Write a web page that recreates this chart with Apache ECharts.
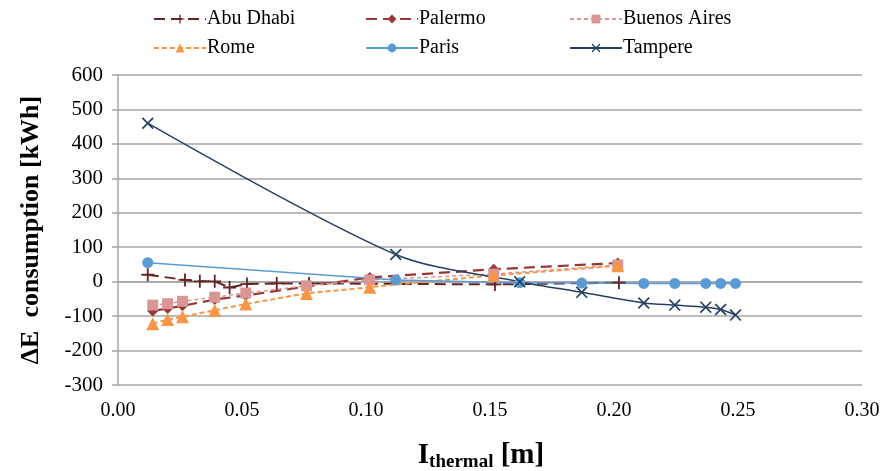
<!DOCTYPE html>
<html>
<head>
<meta charset="utf-8">
<script src="https://cdn.jsdelivr.net/npm/echarts@6/dist/echarts.min.js"></script>
<style>
  html, body { margin: 0; padding: 0; background: #fff; }
  #chart { width: 889px; height: 471px; }
</style>
</head>
<body>
<div id="chart"></div>
<script>
var chart = echarts.init(document.getElementById('chart'));

// data
var seriesNames = ['Abu Dhabi', 'Palermo', 'Buenos Aires', 'Rome', 'Paris', 'Tampere'];

var abuX = [0.012, 0.027, 0.033, 0.039, 0.045, 0.052, 0.064, 0.077, 0.152, 0.202];
var abuY = [20, 5, 1, 1, -17, -7, -5, -5, -8, -3];

var palermoX = [0.014, 0.020, 0.026, 0.039, 0.0515, 0.076, 0.1015, 0.1515, 0.2015];
var palermoY = [-85, -78, -70, -52, -40, -14, 12, 36, 54];

var buenosX = [0.014, 0.020, 0.026, 0.039, 0.0515, 0.076, 0.1015, 0.1515, 0.2015];
var buenosY = [-68, -64, -57, -45, -33, -12, 5, 22, 48];

var romeX = [0.014, 0.020, 0.026, 0.039, 0.0515, 0.076, 0.1015, 0.1515, 0.2015];
var romeY = [-122, -110, -102, -83, -65, -34, -16, 18, 46];

var parisX = [0.012, 0.112, 0.162, 0.187, 0.212, 0.2245, 0.237, 0.243, 0.249];
var parisY = [55, 5, -3, -4, -5, -5, -5, -5, -5];

var tampereX = [0.012, 0.112, 0.162, 0.187, 0.212, 0.2245, 0.237, 0.243, 0.249];
var tampereY = [460, 79, 0, -31, -62, -68, -74, -81, -97];

function pairs(xs, ys) {
    var out = [];
    for (var i = 0; i < xs.length; i++) out.push([xs[i], ys[i]]);
    return out;
}

var plusPath = 'path://M0,4.3 L10,4.3 L10,5.7 L0,5.7 Z M4.3,0 L5.7,0 L5.7,10 L4.3,10 Z';
var xPath = 'path://M0,1 L1,0 L10,9 L9,10 Z M9,0 L10,1 L1,10 L0,9 Z';
var font = "'Liberation Serif', 'Times New Roman', serif";

function mkSeries(name, xs, ys, color, symbol, size, width, dash, smooth) {
    return {
        name: name,
        type: 'line',
        data: pairs(xs, ys),
        symbol: symbol,
        symbolSize: size,
        smooth: smooth || false,
        lineStyle: { color: color, width: width, type: dash },
        itemStyle: { color: color, borderWidth: 0 },
        emphasis: { disabled: true }
    };
}

// legend laid out as 3 columns x 2 rows
var legendCols = [148, 360, 564];
var legendRows = [4, 33];
var legends = [];
for (var i = 0; i < seriesNames.length; i++) {
    legends.push({
        left: legendCols[i % 3],
        top: legendRows[Math.floor(i / 3)],
        itemWidth: 52,
        itemHeight: 11,
        itemGap: 0,
        textStyle: { fontFamily: font, fontSize: 20, color: '#000', padding: [0, 0, 0, -4] },
        data: [seriesNames[i]]
    });
}

var option = {
    backgroundColor: '#fff',
    animation: false,
    textStyle: { fontFamily: font },
    legend: legends,
    grid: { left: 118, right: 27, top: 75, bottom: 86, outerBoundsMode: 'none', containLabel: false },
    xAxis: {
        type: 'value',
        min: 0,
        max: 0.3,
        interval: 0.05,
        name: '{b|I}{s|thermal}{b| [m]}',
        nameLocation: 'middle',
        nameGap: 54,
        nameTextStyle: {
            padding: [0, 18, 0, 0],
            rich: {
                b: { fontFamily: font, fontSize: 29, fontWeight: 'bold', color: '#000' },
                s: { fontFamily: font, fontSize: 19, fontWeight: 'bold', color: '#000', padding: [14, 0, 0, 0] }
            }
        },
        axisLine: { lineStyle: { color: '#a6a6a6', width: 1.5 } },
        axisTick: { show: false },
        splitLine: { show: false },
        axisLabel: {
            fontFamily: font, fontSize: 20, color: '#000', margin: 16,
            formatter: function (v) { return v.toFixed(2); }
        }
    },
    yAxis: {
        type: 'value',
        min: -300,
        max: 600,
        interval: 100,
        name: 'ΔE  consumption [kWh]',
        nameLocation: 'middle',
        nameGap: 74,
        nameTextStyle: { fontFamily: font, fontSize: 26, fontWeight: 'bold', color: '#000' },
        axisLine: { show: true, lineStyle: { color: '#a6a6a6', width: 1.5 } },
        axisTick: { show: true, length: 6, lineStyle: { color: '#a6a6a6', width: 1.5 } },
        splitLine: { lineStyle: { color: '#a6a6a6', width: 1.5 } },
        axisLabel: { fontFamily: font, fontSize: 21, color: '#000', margin: 15 }
    },
    series: [
        mkSeries('Abu Dhabi', abuX, abuY, '#632523', plusPath, 13, 2, [11, 6]),
        mkSeries('Palermo', palermoX, palermoY, '#953735', 'diamond', 11, 2.2, [11, 6]),
        mkSeries('Buenos Aires', buenosX, buenosY, '#D99694', 'rect', 11, 1.5, [4, 3]),
        mkSeries('Rome', romeX, romeY, '#F79646', 'triangle', 13, 2, [5, 3]),
        mkSeries('Paris', parisX, parisY, '#5B9BD5', 'circle', 11, 1.5, 'solid'),
        mkSeries('Tampere', tampereX, tampereY, '#254061', xPath, 12, 1.5, 'solid', 0.3)
    ]
};

chart.setOption(option);
</script>
</body>
</html>
